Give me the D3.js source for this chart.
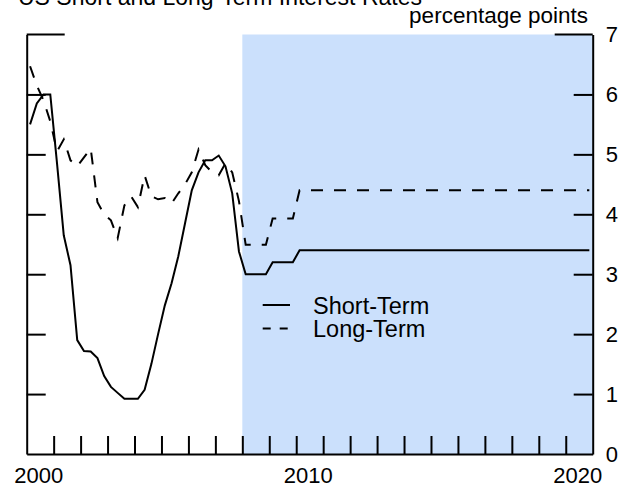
<!DOCTYPE html>
<html>
<head>
<meta charset="utf-8">
<script src="https://cdn.jsdelivr.net/npm/d3@7"></script>
<style>
  html, body { margin: 0; padding: 0; background: #fff; }
  svg { display: block; font-family: "Liberation Sans", Arial, sans-serif; }
</style>
</head>
<body>
<svg id="chart" width="628" height="490"></svg>
<script>
// Quarterly series, first point = 2000Q1
const FIRST_YEAR = 2000;
const shortTerm = [
  5.50, 5.85, 6.00, 6.00,
  4.85, 3.65, 3.15, 1.90,
  1.72, 1.71, 1.60, 1.30,
  1.12, 1.02, 0.92, 0.92,
  0.92, 1.07, 1.50, 2.00,
  2.48, 2.85, 3.30, 3.85,
  4.40, 4.70, 4.90, 4.90,
  4.98, 4.80, 4.35, 3.38,
  3.00, 3.00, 3.00, 3.00,
  3.20, 3.20, 3.20, 3.20,
  3.40, 3.40, 3.40, 3.40, 3.40, 3.40, 3.40, 3.40, 3.40, 3.40, 3.40, 3.40,
  3.40, 3.40, 3.40, 3.40, 3.40, 3.40, 3.40, 3.40, 3.40, 3.40, 3.40, 3.40,
  3.40, 3.40, 3.40, 3.40, 3.40, 3.40, 3.40, 3.40, 3.40, 3.40, 3.40, 3.40,
  3.40, 3.40, 3.40, 3.40, 3.40, 3.40, 3.40, 3.40
];
const longTerm = [
  6.47, 6.15, 5.90, 5.55,
  5.05, 5.25, 4.90, 4.80,
  4.95, 5.10, 4.20, 4.00,
  3.90, 3.60, 4.15, 4.30,
  4.12, 4.65, 4.30, 4.25,
  4.27, 4.18, 4.35, 4.50,
  4.70, 5.08, 4.82, 4.70,
  4.65, 4.85, 4.70, 4.22,
  3.49, 3.49, 3.49, 3.49,
  3.93, 3.93, 3.93, 3.93,
  4.40, 4.40, 4.40, 4.40, 4.40, 4.40, 4.40, 4.40, 4.40, 4.40, 4.40, 4.40,
  4.40, 4.40, 4.40, 4.40, 4.40, 4.40, 4.40, 4.40, 4.40, 4.40, 4.40, 4.40,
  4.40, 4.40, 4.40, 4.40, 4.40, 4.40, 4.40, 4.40, 4.40, 4.40, 4.40, 4.40,
  4.40, 4.40, 4.40, 4.40, 4.40, 4.40, 4.40, 4.40
];
const shadeStart = 2008;
const xLabelYears = [2000, 2010, 2020];
const yTickValues = [0, 1, 2, 3, 4, 5, 6, 7];
const seriesNames = ['Short-Term', 'Long-Term'];

const title = 'US Short and Long-Term Interest Rates';
const unitLabel = 'percentage points';

// Layout
const plot = { left: 26.7, right: 592.7, top: 34.5, bottom: 454 };
const svg = d3.select('#chart');

const x = d3.scaleLinear().domain([2000, 2021]).range([plot.left, plot.right]);
const y = d3.scaleLinear().domain([0, 7]).range([plot.bottom, plot.top]);

// quarter index -> mid-quarter date
const dateOf = i => FIRST_YEAR + Math.floor(i / 4) + ((i % 4) + 0.5) / 4;

// Shaded projection region
svg.append('rect')
  .attr('x', x(shadeStart))
  .attr('y', y(7))
  .attr('width', x(2021) - x(shadeStart))
  .attr('height', y(0) - y(7))
  .attr('fill', '#cbe0fc');

// Title (clipped at top edge in the original)
svg.append('text')
  .attr('x', 18).attr('y', 5)
  .attr('font-size', 23)
  .attr('fill', '#000')
  .text(title);

svg.append('text')
  .attr('x', 588).attr('y', 23)
  .attr('text-anchor', 'end')
  .attr('font-size', 22.5)
  .text(unitLabel);

// Axes
const axisG = svg.append('g');

axisG.append('g')
  .attr('transform', `translate(${plot.left},0)`)
  .call(d3.axisLeft(y).tickValues(yTickValues.slice(1, -1)).tickSizeInner(-19).tickSizeOuter(0).tickFormat(''));

axisG.append('g')
  .attr('transform', `translate(${plot.right},0)`)
  .call(d3.axisRight(y).tickValues(yTickValues).tickSizeInner(-19).tickSizeOuter(0).tickPadding(13).tickFormat(d3.format('d')))
  .call(g => g.selectAll('text').attr('font-size', 22).attr('fill', '#000'))
  .call(g => g.selectAll('.tick').filter(d => d === 7 || d === 0).select('line').remove());

axisG.append('g')
  .attr('transform', `translate(0,${plot.bottom})`)
  .call(d3.axisBottom(x).tickValues(d3.range(2001, 2021)).tickSizeInner(-18).tickSizeOuter(0).tickFormat(''));

// Longer top corner marks at 7
axisG.append('line')
  .attr('x1', plot.left).attr('x2', plot.left + 38).attr('y1', y(7)).attr('y2', y(7));
axisG.append('line')
  .attr('x1', plot.right - 38).attr('x2', plot.right).attr('y1', y(7)).attr('y2', y(7));

axisG.selectAll('path, line')
  .attr('stroke', '#000')
  .attr('stroke-width', 2);

axisG.selectAll('.tick text').attr('font-family', '"Liberation Sans", Arial, sans-serif');

// X labels
svg.append('g').selectAll('text')
  .data(xLabelYears)
  .join('text')
  .attr('x', d => x(d) + 12)
  .attr('y', 483)
  .attr('text-anchor', 'middle')
  .attr('font-size', 22)
  .text(d => d);

// Lines
const line = d3.line()
  .x((d, i) => x(dateOf(i)))
  .y(d => y(d));

svg.append('path')
  .datum(longTerm)
  .attr('d', line)
  .attr('fill', 'none')
  .attr('stroke', '#000')
  .attr('stroke-width', 2)
  .attr('stroke-dasharray', '12,11');

svg.append('path')
  .datum(shortTerm)
  .attr('d', line)
  .attr('fill', 'none')
  .attr('stroke', '#000')
  .attr('stroke-width', 2);

// Legend
const legend = svg.append('g');
seriesNames.forEach((name, i) => {
  const ly = 305 + i * 23.5;
  legend.append('line')
    .attr('x1', 262.7).attr('x2', 290)
    .attr('y1', ly).attr('y2', ly)
    .attr('stroke', '#000')
    .attr('stroke-width', 2)
    .attr('stroke-dasharray', i === 1 ? '8,9' : null);
  legend.append('text')
    .attr('x', 313).attr('y', ly + 8.5)
    .attr('font-size', 23.5)
    .text(name);
});
</script>
</body>
</html>
